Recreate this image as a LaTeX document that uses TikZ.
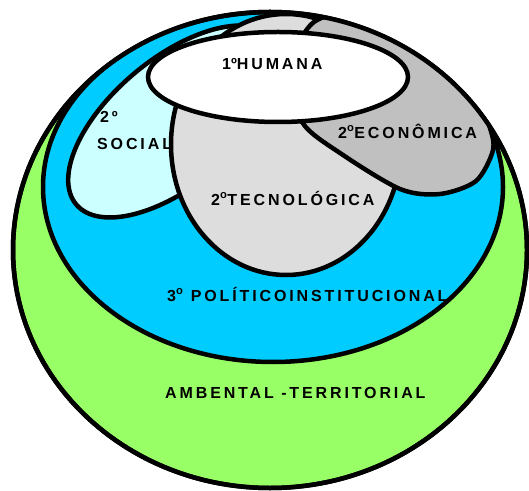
\documentclass[tikz,border=0pt]{standalone}
\usepackage{fontspec}
\newfontfamily\rotfont[LetterSpace=18]{Liberation Sans}
\newcommand{\ordem}[1]{{\addfontfeature{LetterSpace=0}#1\textsuperscript{o}}}
\usetikzlibrary{shapes.geometric}
\usetikzlibrary{positioning}
\definecolor{verde}{HTML}{99FF66}
\definecolor{azul}{HTML}{00CCFF}
\definecolor{ciano}{HTML}{CCFFFF}
\definecolor{cinzaclaro}{HTML}{DDDDDD}
\definecolor{cinza}{HTML}{C0C0C0}
\tikzset{
    camada/.style={
           ellipse,
           draw=black, line width=4.5pt,
           inner sep=0pt,
           },
    contorno/.style={
           draw=black, line width=4.5pt,
           },
    rotulo/.style={
           font=\fontsize{16}{16}\rotfont\bfseries,
           inner sep=0pt,
           anchor=west,
           }
}

\begin{document}
\begin{tikzpicture}[x=1pt,y=1pt]
\useasboundingbox (0,0) rectangle (529,490);
% camadas
\node (ambiental) at (270,240) [camada, fill=verde, minimum width=514pt, minimum height=476pt] {};
\begin{scope}
\clip (270,240) ellipse [x radius=257, y radius=238];
\node (politico) at (273,303) [camada, fill=azul, minimum width=460pt, minimum height=350pt] {};
\end{scope}
\node (social) at (175,368.5) [camada, fill=ciano, minimum width=258pt, minimum height=126pt, rotate=40] {};
\node (tecnologica) at (286,345.5) [camada, fill=cinzaclaro, minimum width=230pt, minimum height=261pt] {};
\begin{scope}
\clip (270,240) ellipse [x radius=257, y radius=238];
\path[contorno, fill=cinza] plot[smooth cycle] coordinates {(314,468) (372,480) (440,462) (474,400) (489,365) (493,340) (476,309) (440,296) (400,301) (340,337) (302,368) (290,420)};
\end{scope}
\node (humana) at (278,413) [camada, fill=white, minimum width=260pt, minimum height=90pt] {};
\draw[contorno] (ambiental.center) ellipse [x radius=257, y radius=238];
% textos
\node (thumana) at (222,426) [rotulo] {{\addfontfeature{LetterSpace=0}1º}HUMANA};
\node (tsocial1) at (100,373) [rotulo] {2º};
\node (tsocial2) at (97,346) [rotulo] {SOCIAL};
\node (teconomica) at (338,359) [rotulo] {\ordem{2}ECONÔMICA};
\node (ttecnologica) at (211,292) [rotulo] {\ordem{2}TECNOLÓGICA};
\node (tpolitico) at (167,196) [rotulo] {\ordem{3} POLÍTICOINSTITUCIONAL};
\node (tambiental) at (165,97) [rotulo] {AMBENTAL -TERRITORIAL};
\end{tikzpicture}
\end{document}
